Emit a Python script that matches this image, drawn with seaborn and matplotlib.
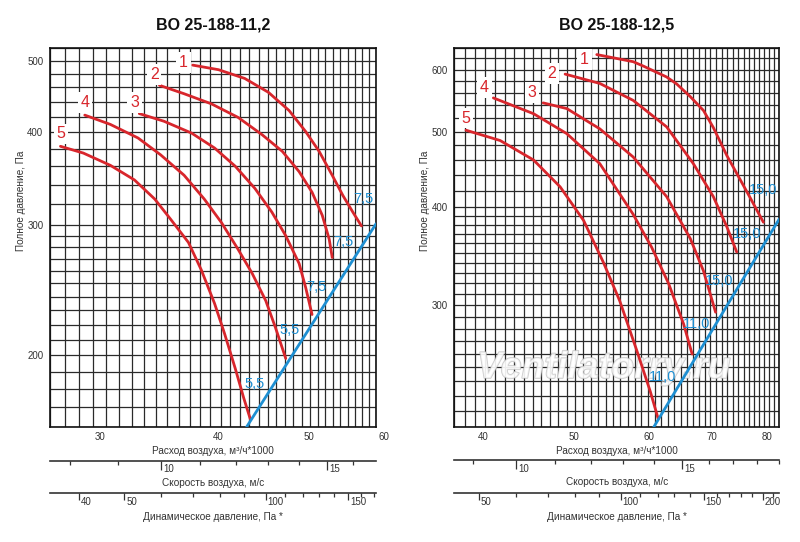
import numpy as np
import pandas as pd
import matplotlib
matplotlib.use("Agg")
import matplotlib.pyplot as plt
import matplotlib.patheffects as pe
from matplotlib import font_manager
from matplotlib.ticker import NullFormatter
from matplotlib.transforms import ScaledTranslation
import seaborn as sns

# ------------------------------- data ---------------------------------------
# air flow in m3/h*1000, total pressure in Pa

curve_names = ["1", "2", "3", "4", "5"]

# BO 25-188-11,2
f112_q1 = [38.3, 40.8, 43.5, 46.1, 48.5, 50.5, 52.2, 53.9, 55.3, 56.7, 57.9]
f112_p1 = [493, 486, 473, 453, 428, 401, 377, 350, 329, 312, 299]
f112_q2 = [35.3, 37.5, 40.1, 42.8, 45.4, 47.7, 49.7, 51.3, 52.6, 53.5, 53.9]
f112_p2 = [463, 451, 437, 419, 397, 377, 354, 332, 309, 287, 271]
f112_q3 = [33.6, 35.7, 38.2, 40.4, 42.5, 44.6, 46.5, 48.1, 49.7, 50.5, 51.3]
f112_p3 = [424, 414, 399, 381, 360, 336, 312, 290, 266, 247, 227]
f112_q4 = [29.4, 31.3, 33.5, 35.4, 37.5, 39.4, 41.1, 42.8, 44.3, 45.8, 46.9, 48.1]
f112_p4 = [422, 410, 393, 373, 350, 325, 302, 278, 258, 237, 218, 198]
f112_q5 = [27.7, 29.3, 31.3, 33.2, 34.9, 36.3, 37.9, 39.1, 40.4, 41.4, 42.5, 43.4, 44.1]
f112_p5 = [383, 375, 361, 345, 325, 305, 284, 261, 235, 214, 192, 175, 164]
f112_net_q = [43.7, 60.0]
f112_net_p = [160, 301]
f112_kw = ["7,5", "7,5", "7,5", "5,5", "5,5"]

# BO 25-188-12,5
f125_q1 = [53.8, 58.8, 60.3, 63.8, 65.4, 67.6, 69.8, 71.5, 73.9, 75.1, 78.2, 80.8]
f125_p1 = [627, 614, 606, 587, 575, 554, 532, 506, 466, 450, 412, 383]
f125_q2 = [49.8, 54.2, 58.8, 63.8, 68.1, 71.5, 73.9, 75.7]
f125_p2 = [592, 576, 548, 507, 455, 413, 378, 351]
f125_q3 = [47.2, 50.0, 54.2, 58.8, 63.8, 67.6, 69.8, 71.9]
f125_p3 = [544, 535, 504, 464, 413, 365, 332, 294]
f125_q4 = [41.8, 46.1, 50.0, 54.2, 58.8, 61.5, 64.1, 66.5, 67.9]
f125_p4 = [552, 527, 497, 455, 392, 356, 320, 284, 260]
f125_q5 = [39.1, 42.5, 46.1, 49.2, 52.1, 54.7, 56.9, 59.3, 61.3, 62.5]
f125_p5 = [502, 487, 460, 425, 385, 340, 304, 263, 233, 215]
f125_net_q = [61.8, 84.0]
f125_net_p = [209.6, 386.9]
f125_kw = ["15,0", "15,0", "15,0", "11,0", "11,0"]

# where the labels sit (data coords)
f112_num_q = [37.45, 34.85, 33.2, 29.4, 27.75]
f112_num_p = [497, 479, 439, 439, 398]
f112_kw_q = [58.2, 55.4, 51.8, 48.5, 44.6]
f112_kw_p = [325, 284, 247, 216, 183]
f125_num_q = [52.2, 48.2, 45.9, 40.9, 39.1]
f125_num_p = [618, 593, 561, 569, 520]
f125_kw_q = [80.8, 77.6, 72.6, 68.7, 63.1]
f125_kw_p = [421, 370, 322, 284, 243]

# axes scales
f112_qlim, f112_plim = (27, 60), (160, 520)
f125_qlim, f125_plim = (38, 84), (210, 640)
f112_q_major = [30, 40, 50, 60]
f125_q_major = [40, 50, 60, 70, 80]
f112_p_major = [200, 300, 400, 500]
f125_p_major = [300, 400, 500, 600]
f112_p_grid = list(range(160, 300, 10)) + list(range(300, 521, 20))
f125_p_grid = list(range(210, 400, 10)) + list(range(400, 641, 20))
f112_area = 0.985   # outlet area, m2
f125_area = 1.227
f112_v_major, f112_v_minor = [10, 15], [8, 9, 11, 12, 13, 14, 16]
f125_v_major, f125_v_minor = [10, 15], [9, 11, 12, 13, 14, 16, 17, 18, 19]
f112_pd_major = [40, 50, 100, 150]
f112_pd_minor = [60, 70, 80, 90, 110, 120, 130, 140, 160, 170]
f125_pd_major = [50, 100, 150, 200]
f125_pd_minor = [60, 70, 80, 90, 110, 120, 130, 140, 160, 170, 180, 190, 210]

# ------------------------------- style --------------------------------------
RED = "#d8262c"
BLUE = "#1e8fd2"
GRID = "#2a2a2a"
TXT = "#333333"

sns.set_style("white")
names = {f.name for f in font_manager.fontManager.ttflist}
narrow = "Liberation Sans Narrow" if "Liberation Sans Narrow" in names else "Liberation Sans"
plt.rcParams["font.family"] = [narrow, "DejaVu Sans"]


def shift_labels(labels, fig, dx=1.5):
    off = ScaledTranslation(dx / 72, 0, fig.dpi_scale_trans)
    for lbl in labels:
        lbl.set_transform(lbl.get_transform() + off)


def draw_chart(fig, rect, cfg):
    ax = fig.add_axes(rect)
    ax.set_xscale("log")
    ax.set_yscale("log")

    frames = []
    for name, q, p in zip(curve_names, cfg["qs"], cfg["ps"]):
        frames.append(pd.DataFrame({"Q": q, "P": p, "curve": name}))
    df = pd.concat(frames, ignore_index=True)
    sns.lineplot(data=df, x="Q", y="P", units="curve", estimator=None, sort=False,
                 color=RED, linewidth=2.0, ax=ax, legend=False, zorder=3)
    sns.lineplot(x=cfg["net_q"], y=cfg["net_p"], color=BLUE, linewidth=2.0,
                 ax=ax, legend=False, zorder=3)

    ax.set_xlim(*cfg["qlim"])
    ax.set_ylim(*cfg["plim"])

    # grid every 1000 m3/h and every 10/20 Pa
    q_grid = list(range(int(cfg["qlim"][0]), int(cfg["qlim"][1]) + 1))
    ax.set_xticks(cfg["q_major"], labels=[str(v) for v in cfg["q_major"]], ha="left")
    ax.set_xticks(q_grid, minor=True)
    ax.set_yticks(cfg["p_major"], labels=[str(v) for v in cfg["p_major"]])
    ax.set_yticks(cfg["p_grid"], minor=True)
    ax.xaxis.set_minor_formatter(NullFormatter())
    ax.yaxis.set_minor_formatter(NullFormatter())
    ax.grid(True, which="both", color=GRID, linewidth=0.9)
    ax.set_axisbelow(True)
    ax.tick_params(which="both", direction="out", color=GRID, width=0.9,
                   labelsize=7, labelcolor=TXT)
    ax.tick_params(axis="x", which="major", length=5, pad=-1.4)
    ax.tick_params(axis="x", which="minor", length=2.2)
    ax.tick_params(axis="y", which="major", length=3.6, pad=1.2)
    ax.tick_params(axis="y", which="minor", length=2.2)
    shift_labels(ax.get_xticklabels(), fig)
    for s in ax.spines.values():
        s.set_color("#111111")
        s.set_linewidth(1.2)

    ax.set_xlabel("Расход воздуха, м³/ч*1000", fontsize=7.2, color=TXT, labelpad=3)
    ax.set_ylabel("Полное давление, Па", fontsize=7.2, color=TXT)
    ax.yaxis.set_label_coords(-0.075, 0.596)
    ax.set_title(cfg["title"], fontsize=11.5, fontweight="bold", pad=13, color="#111111")

    for s, q, p in zip(curve_names, cfg["num_q"], cfg["num_p"]):
        ax.text(q, p, s, color=RED, fontsize=11.5, ha="center", va="center", zorder=4,
                bbox=dict(facecolor="white", edgecolor="none", pad=2.0))
    for s, q, p in zip(cfg["kw"], cfg["kw_q"], cfg["kw_p"]):
        ax.text(q, p, s, color=BLUE, fontsize=10.5, ha="center", va="center", zorder=4)

    # secondary scales: air velocity and dynamic pressure
    k = 1000.0 / 3600.0 / cfg["area"]

    def q2v(q):
        return np.asarray(q, dtype=float) * k

    def v2q(v):
        return np.asarray(v, dtype=float) / k

    def q2pd(q):
        return 0.6 * (np.asarray(q, dtype=float) * k) ** 2

    def pd2q(d):
        return np.sqrt(np.abs(np.asarray(d, dtype=float)) / 0.6) / k

    for loc, funcs, major, minor, label, pad, tlen, lpad in [
        (cfg["loc_v"], (q2v, v2q), cfg["v_major"], cfg["v_minor"],
         "Скорость воздуха, м/с", -4.0, 6.5, 2.5),
        (cfg["loc_pd"], (q2pd, pd2q), cfg["pd_major"], cfg["pd_minor"],
         "Динамическое давление, Па *", -1.7, 5.0, 3.5),
    ]:
        sec = ax.secondary_xaxis(loc, functions=funcs)
        sec.set_xticks(major, labels=[str(v) for v in major], ha="left")
        sec.set_xticks(minor, minor=True)
        sec.xaxis.set_minor_formatter(NullFormatter())
        sec.tick_params(which="both", direction="out", color=TXT, width=0.9,
                        labelsize=7, labelcolor=TXT)
        sec.tick_params(which="major", length=tlen, pad=pad)
        sec.tick_params(which="minor", length=2.6)
        sec.spines["bottom"].set_color(TXT)
        sec.spines["bottom"].set_linewidth(1.2)
        shift_labels(sec.get_xticklabels(), fig)
        sec.set_xlabel(label, fontsize=7.2, color=TXT, labelpad=lpad)
    return ax


cfg112 = dict(title="BO 25-188-11,2",
              qs=[f112_q1, f112_q2, f112_q3, f112_q4, f112_q5],
              ps=[f112_p1, f112_p2, f112_p3, f112_p4, f112_p5],
              net_q=f112_net_q, net_p=f112_net_p, kw=f112_kw,
              num_q=f112_num_q, num_p=f112_num_p, kw_q=f112_kw_q, kw_p=f112_kw_p,
              qlim=f112_qlim, plim=f112_plim, q_major=f112_q_major,
              p_major=f112_p_major, p_grid=f112_p_grid, area=f112_area,
              v_major=f112_v_major, v_minor=f112_v_minor,
              pd_major=f112_pd_major, pd_minor=f112_pd_minor,
              loc_v=-0.0889, loc_pd=-0.1733)
cfg125 = dict(title="BO 25-188-12,5",
              qs=[f125_q1, f125_q2, f125_q3, f125_q4, f125_q5],
              ps=[f125_p1, f125_p2, f125_p3, f125_p4, f125_p5],
              net_q=f125_net_q, net_p=f125_net_p, kw=f125_kw,
              num_q=f125_num_q, num_p=f125_num_p, kw_q=f125_kw_q, kw_p=f125_kw_p,
              qlim=f125_qlim, plim=f125_plim, q_major=f125_q_major,
              p_major=f125_p_major, p_grid=f125_p_grid, area=f125_area,
              v_major=f125_v_major, v_minor=f125_v_minor,
              pd_major=f125_pd_major, pd_minor=f125_pd_minor,
              loc_v=-0.0879, loc_pd=-0.174)

fig = plt.figure(figsize=(8, 5.42), dpi=100)
ax1 = draw_chart(fig, [0.0625, 0.2122, 0.4075, 0.6993], cfg112)
ax2 = draw_chart(fig, [0.5679, 0.2127, 0.40625, 0.6995], cfg125)

# watermark of the source site
ax2.text(0.46, 0.155, "Ventilatorry.ru", transform=ax2.transAxes, fontsize=27,
         fontweight="bold", fontstyle="italic", ha="center", va="center",
         color="white", alpha=0.7, zorder=2,
         path_effects=[pe.withStroke(linewidth=1.2, foreground="#b8b8b8")])

fig.savefig("out.png", dpi=100)
